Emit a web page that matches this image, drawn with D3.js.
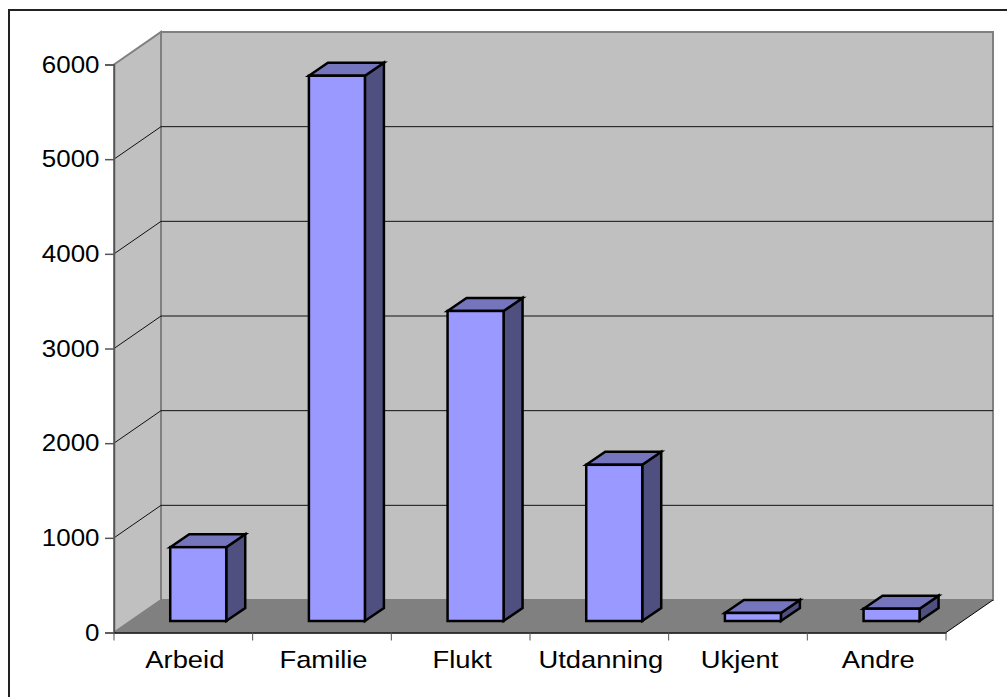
<!DOCTYPE html>
<html>
<head>
<meta charset="utf-8">
<script src="https://cdn.jsdelivr.net/npm/d3@7"></script>
<style>
  html, body { margin: 0; padding: 0; background: #fff; }
  svg { display: block; }
  text { font-family: "Liberation Sans", Arial, sans-serif; fill: #000; }
</style>
</head>
<body>
<div id="chart"></div>
<script>
const categories = ["Arbeid", "Familie", "Flukt", "Utdanning", "Ukjent", "Andre"];
const values = [780, 5760, 3275, 1650, 85, 130];
const yTicks = [0, 1000, 2000, 3000, 4000, 5000, 6000];

const svg = d3.select("#chart").append("svg")
  .attr("width", 1007)
  .attr("height", 697);

// outer frame, runs off the right and bottom edge
svg.append("rect")
  .attr("x", 9).attr("y", 10)
  .attr("width", 1010).attr("height", 700)
  .attr("fill", "#fff")
  .attr("stroke", "#222")
  .attr("stroke-width", 2);

const x = d3.scaleBand().domain(categories).range([114, 946]);
const y = d3.scaleLinear().domain([0, 6000]).range([632.5, 64.5]);

// depth of the floor
const dx = 47, dy = -32.5;
const pts = a => a.map(p => p.join(",")).join(" ");

const left = 114, right = 946, y0 = y(0), yTop = y(6000);

// back wall
svg.append("polygon")
  .attr("points", pts([[left + dx, yTop + dy], [right + dx, yTop + dy], [right + dx, y0 + dy], [left + dx, y0 + dy]]))
  .attr("fill", "#c0c0c0")
  .attr("stroke", "#808080")
  .attr("stroke-width", 2);

// side wall
svg.append("polygon")
  .attr("points", pts([[left, yTop], [left + dx, yTop + dy], [left + dx, y0 + dy], [left, y0]]))
  .attr("fill", "#c0c0c0")
  .attr("stroke", "#808080")
  .attr("stroke-width", 2);

// floor
svg.append("polygon")
  .attr("points", pts([[left, y0], [left + dx, y0 + dy], [right + dx, y0 + dy], [right, y0]]))
  .attr("fill", "#808080");

// gridlines
yTicks.slice(1, -1).forEach(t => {
  svg.append("polyline")
    .attr("points", pts([[left, y(t)], [left + dx, y(t) + dy], [right + dx, y(t) + dy]]))
    .attr("fill", "none")
    .attr("stroke", "#111")
    .attr("stroke-width", 1);
});
svg.append("line")
  .attr("x1", right).attr("y1", y0)
  .attr("x2", right + dx).attr("y2", y0 + dy)
  .attr("stroke", "#000");

// bars
const barW = 56, depthX = 19, depthY = -13, offX = 14.9, offY = -11.5;
const bars = svg.append("g").attr("stroke", "#000").attr("stroke-width", 2.5).attr("stroke-linejoin", "miter");

categories.forEach((c, i) => {
  const bx = x(c) + x.bandwidth() / 2 - barW / 2 + offX;
  const by = y0 + offY;
  const top = y(values[i]) + offY;
  const g = bars.append("g");
  g.append("polygon")
    .attr("points", pts([[bx + barW, top], [bx + barW + depthX, top + depthY], [bx + barW + depthX, by + depthY], [bx + barW, by]]))
    .attr("fill", "#4f4f80");
  g.append("polygon")
    .attr("points", pts([[bx, top], [bx + depthX, top + depthY], [bx + barW + depthX, top + depthY], [bx + barW, top]]))
    .attr("fill", "#7575bd");
  g.append("rect")
    .attr("x", bx).attr("y", top)
    .attr("width", barW).attr("height", by - top)
    .attr("fill", "#9999ff");
});

// axes
const yAxis = d3.axisLeft(y).tickValues(yTicks).tickSize(9).tickPadding(0).tickFormat(d3.format("d"));
const gy = svg.append("g").attr("transform", `translate(${left},0)`).call(yAxis);
gy.select(".domain").attr("stroke", "#555").attr("stroke-width", 1.5);
gy.selectAll(".tick line").attr("stroke", "#555").attr("stroke-width", 1.5);
// labels in the source are a little wider than the font
gy.selectAll("text")
  .style("font-size", "24px")
  .attr("x", 0)
  .attr("transform", "translate(-14.5,0) scale(1.08,1)");

const xAxis = d3.axisBottom(x).tickSize(0).tickPadding(18);
const gx = svg.append("g").attr("transform", `translate(0,${y0})`).call(xAxis);
gx.select(".domain").attr("stroke", "#000").attr("stroke-width", 1.5);
gx.selectAll("text")
  .style("font-size", "24px")
  .attr("transform", "translate(1.5,0) scale(1.14,1)");
gx.selectAll(".sep").data(d3.range(categories.length + 1)).enter().append("line")
  .attr("class", "sep")
  .attr("x1", i => left + i * x.step()).attr("x2", i => left + i * x.step())
  .attr("y1", 0).attr("y2", 8)
  .attr("stroke", "#555");
</script>
</body>
</html>
